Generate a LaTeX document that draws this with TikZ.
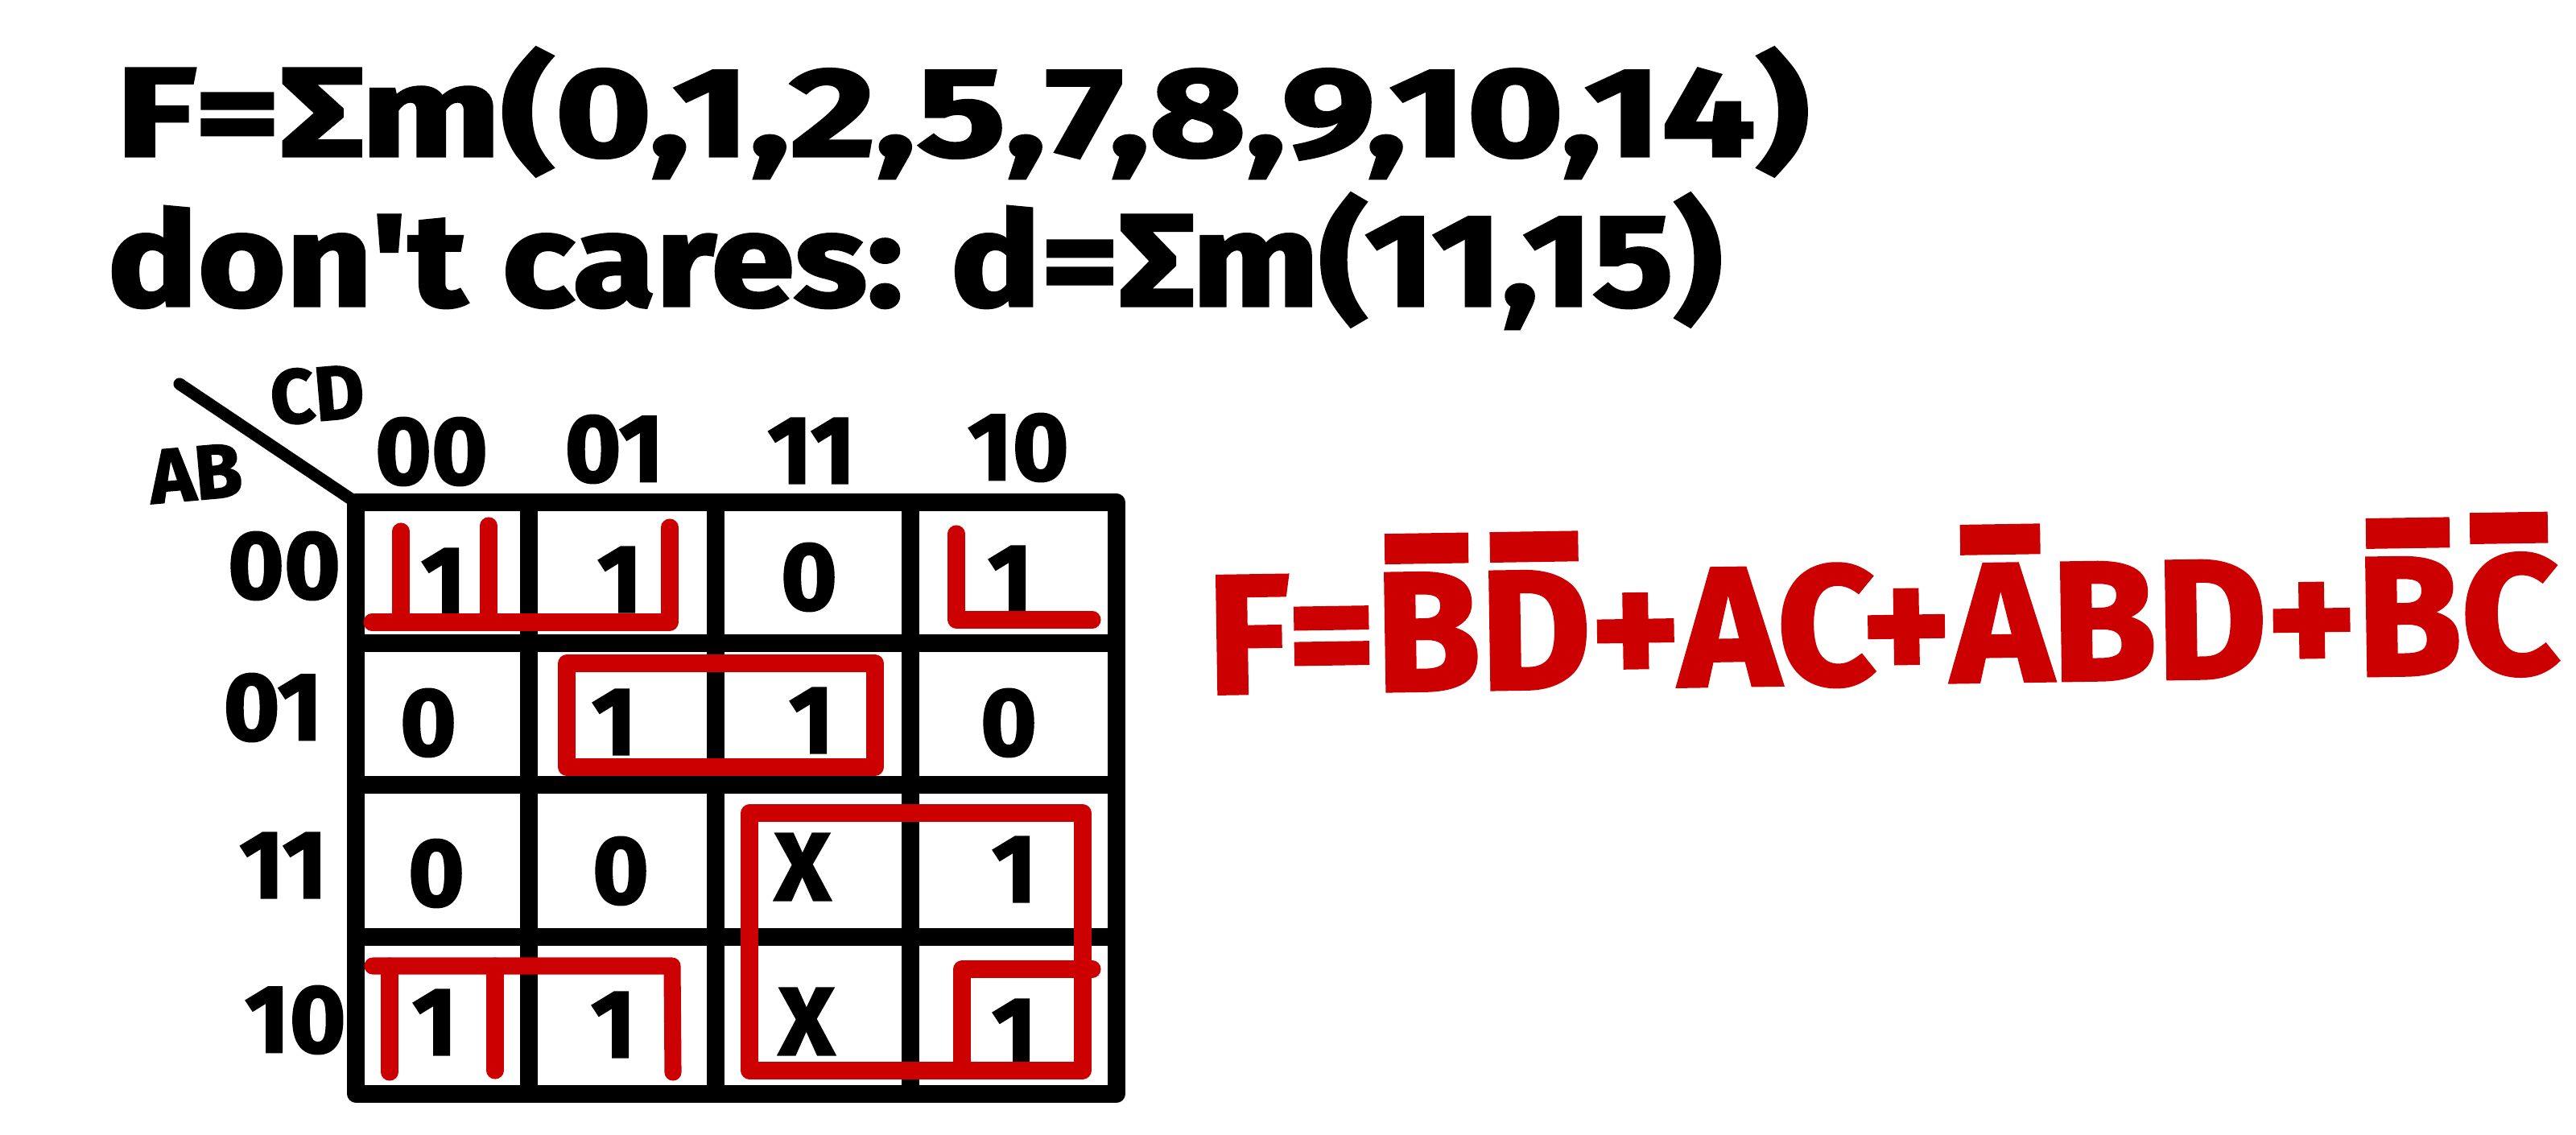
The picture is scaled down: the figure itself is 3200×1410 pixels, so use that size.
\documentclass[tikz,border=0pt]{standalone}
\usepackage{fontspec}
\usepackage{graphicx}
\newfontfamily\hand{Fira Sans}[FakeBold=2]
\definecolor{mred}{HTML}{CC0000}
\newsavebox\ovbox
\newcommand\ovl[1]{\sbox\ovbox{#1}\rlap{\hbox to \wd\ovbox{\hss\rule[1.08\ht\ovbox]{0.8\wd\ovbox}{0.26\ht\ovbox}\hss}}\usebox\ovbox}
\begin{document}
\begin{tikzpicture}[x=0.01cm,y=-0.01cm,
  gridline/.style={line width=6pt, line join=round, line cap=round},
  grp/.style={draw=mred, line width=6pt, line join=round, line cap=round},
  val/.style={font=\hand\bfseries\fontsize{34}{34}\selectfont, inner sep=0pt},
  lab/.style={font=\hand\bfseries\fontsize{34}{34}\selectfont, inner sep=0pt},
  corner/.style={font=\hand\bfseries\fontsize{27}{27}\selectfont, inner sep=0pt}]
\useasboundingbox[fill=white] (0,0) rectangle (3200,1410);

% equations
\node[anchor=base west, inner sep=0pt] (eq1) at (143,194)
  {\resizebox{21.02cm}{1.35cm}{\hand\bfseries F=Σm(0,1,2,5,7,8,9,10,14)}};
\node[anchor=base west, inner sep=0pt] (eq2) at (133,380)
  {\resizebox{20.04cm}{1.40cm}{\hand\bfseries don't cares: d=Σm(11,15)}};

% grid
\coordinate (tl) at (442,624);
\coordinate (br) at (1387,1359);
\coordinate (diag) at (223,477);
\draw[line width=4.3pt, line cap=round] (diag) -- (tl);
\draw[gridline] (tl) rectangle (br);
\foreach \x in {657,889,1131} \draw[gridline] (\x,624) -- (\x,1359);
\foreach \y in {799,975,1164} \draw[gridline] (442,\y) -- (1387,\y);

% header labels
\node[corner, rotate=5] (cd) at (394,490) {CD};
\node[corner, rotate=5] (ab) at (243,588) {AB};
\node[lab] (c00) at (536,561) {00};
\node[lab] (c01) at (763,558) {01};
\node[lab] (c11) at (1008,560) {11};
\node[lab] (c10) at (1265,556) {10};
\node[lab] (r00) at (353,703) {00};
\node[lab] (r01) at (339,879) {01};
\node[lab] (r11) at (352,1075) {11};
\node[lab] (r10) at (367,1267) {10};

% cell values
\node[val] (v0) at (551,722) {1};
\node[val] (v1) at (770,720) {1};
\node[val] (v3) at (1005,717) {0};
\node[val] (v2) at (1255,719) {1};
\node[val] (v4) at (532,898) {0};
\node[val] (v5) at (763,897) {1};
\node[val] (v7) at (1008,895) {1};
\node[val] (v6) at (1253,898) {0};
\node[val] (v12) at (542,1085) {0};
\node[val] (v13) at (771,1082) {0};
\node[val] (v15) at (997,1077) {X};
\node[val] (v14) at (1260,1080) {1};
\node[val] (v8) at (540,1270) {1};
\node[val] (v9) at (762,1273) {1};
\node[val] (v11) at (1002,1269) {X};
\node[val] (v10) at (1260,1282) {1};

% groups
\draw[grp] (498,660) -- (498,773);
\draw[grp] (607,653) -- (607,773);
\draw[grp] (462,773) -- (832,773) -- (832,655);
\draw[grp] (1188,663) -- (1188,770) -- (1357,770);
\draw[grp] (704,824) rectangle (1087,953);
\draw[grp] (931,1010) rectangle (1345,1330);
\draw[grp] (1357,1204) -- (1195,1204) -- (1195,1330);
\draw[grp] (463,1200) -- (835,1200) -- (836,1332);
\draw[grp] (484,1200) -- (484,1332);
\draw[grp] (615,1200) -- (615,1330);

% solution
\node[anchor=base west, inner sep=0pt, rotate=0.9, text=mred] (sol) at (1500,862)
  {\resizebox{16.78cm}{2.0cm}{\hand\bfseries F=\ovl{B}\ovl{D}+AC+\ovl{A}BD+\ovl{B}\ovl{C}}};
\end{tikzpicture}
\end{document}
